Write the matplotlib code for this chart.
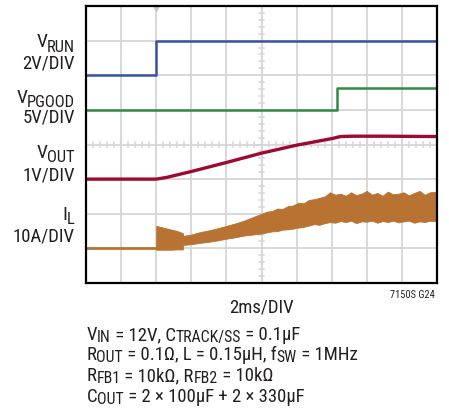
import matplotlib
matplotlib.use('Agg')
import matplotlib.pyplot as plt

plt.rcParams['font.family'] = ['Roboto Condensed', 'DejaVu Sans']

W, H = 449, 412

# scope screen in divisions: 10 across, 8 up, origin bottom-left
vrun_t = [0, 2.0, 2.0, 10]
vrun_v = [6.0, 6.0, 7.0, 7.0]

pgood_t = [0, 7.15, 7.15, 10]
pgood_v = [5.0, 5.0, 5.62, 5.62]

vout_t = [0, 2.0, 2.3, 3.0, 4.0, 5.0, 6.0, 7.0, 7.25, 7.6, 8.5, 10]
vout_v = [3.0, 3.0, 3.05, 3.22, 3.48, 3.75, 3.98, 4.17, 4.23, 4.24, 4.24, 4.23]

il_base_t = [0, 2.0]
il_base_v = [1.0, 1.0]
il_t = [2.0, 2.2, 2.4, 2.6, 2.76, 2.77, 3.0, 3.25, 3.5, 3.75, 4.0, 4.25, 4.5, 4.75,
        5.0, 5.15, 5.3, 5.45, 5.6, 5.75, 5.9, 6.05, 6.2, 6.35, 6.5, 6.65, 6.8, 6.95,
        7.1, 7.25, 7.4, 7.55, 7.7, 7.85, 8.0, 8.15, 8.3, 8.45, 8.6, 8.75, 8.9,
        9.05, 9.2, 9.35, 9.5, 9.65, 9.8, 10.0]
il_hi = [1.65, 1.60, 1.55, 1.50, 1.44, 1.36, 1.40, 1.47, 1.52, 1.58, 1.65, 1.72, 1.80, 1.90,
         2.00, 2.06, 2.08, 2.15, 2.14, 2.22, 2.24, 2.32, 2.30, 2.40, 2.42, 2.46, 2.50, 2.62,
         2.55, 2.58, 2.52, 2.62, 2.54, 2.58, 2.66, 2.55, 2.60, 2.52, 2.64, 2.56, 2.58,
         2.62, 2.53, 2.60, 2.66, 2.55, 2.62, 2.64]
il_lo = [0.96, 0.96, 0.96, 0.97, 0.97, 1.10, 1.12, 1.16, 1.19, 1.23, 1.28, 1.32, 1.37, 1.40,
         1.43, 1.46, 1.49, 1.50, 1.54, 1.55, 1.57, 1.60, 1.62, 1.66, 1.70, 1.68, 1.73, 1.76,
         1.74, 1.79, 1.76, 1.80, 1.73, 1.78, 1.77, 1.80, 1.74, 1.79, 1.76, 1.80, 1.75,
         1.78, 1.80, 1.74, 1.78, 1.76, 1.80, 1.78]

BLUE = '#3953a4'
GREEN = '#2f8a46'
RED = '#9c0a30'
ORANGE = '#b87333'
GRID = '#d6d6d6'
TXT = '#231f20'

fig = plt.figure(figsize=(W / 100, H / 100), dpi=100)
ax = fig.add_axes([86 / W, 1 - 283 / H, 351 / W, 277 / H])
ax.set_xlim(0, 10)
ax.set_ylim(0, 8)

# graticule
for i in range(1, 10):
    ax.axvline(i, color=GRID, lw=1.3, zorder=0)
for i in range(1, 8):
    ax.axhline(i, color=GRID, lw=1.3, zorder=0)
for k in range(51):
    x = k * 0.2
    ax.plot([x, x], [3.92, 4.08], color=GRID, lw=1.1, zorder=0)
for k in range(41):
    y = k * 0.2
    ax.plot([4.92, 5.08], [y, y], color=GRID, lw=1.1, zorder=0)

# traces
ax.plot(vrun_t, vrun_v, color=BLUE, lw=1.8)
ax.plot(pgood_t, pgood_v, color=GREEN, lw=1.8)
ax.plot(vout_t, vout_v, color=RED, lw=2.4)
ax.plot(il_base_t, il_base_v, color=ORANGE, lw=2.0)
ax.fill_between(il_t, il_lo, il_hi, color=ORANGE, lw=0.6, edgecolor=ORANGE)

# trigger marker
ax.plot([2.0], [7.93], marker='v', ms=5, color='#c8c8c8', clip_on=False, zorder=1)

ax.set_xticks([])
ax.set_yticks([])
for s in ax.spines.values():
    s.set_linewidth(1.6)
    s.set_color('black')


def px(x, y):
    return x / W, 1 - y / H


def label(x, y, parts, size=13.5, ha='left', drop=2):
    # parts: list of (text, is_subscript); x,y in image pixels, y = baseline
    r = fig.canvas.get_renderer()
    objs = []
    for s, sub in parts:
        fs = size * 0.85 if sub else size
        t = fig.text(0, 0, s, fontsize=fs, va='baseline', ha='left', color=TXT)
        w = t.get_window_extent(r).width
        objs.append((t, w, sub))
    total = sum(o[1] for o in objs)
    cx = x - total if ha == 'right' else x
    for t, w, sub in objs:
        t.set_position(px(cx, y + (drop if sub else 0)))
        cx += w


label(75, 47, [('V', False), ('RUN', True)], size=14, ha='right', drop=5)
label(75, 68, [('2V/DIV', False)], ha='right')
label(75, 103, [('V', False), ('PGOOD', True)], size=14, ha='right', drop=4)
label(75, 123, [('5V/DIV', False)], ha='right')
label(75, 158, [('V', False), ('OUT', True)], size=14, ha='right', drop=4)
label(75, 180, [('1V/DIV', False)], ha='right')
label(75, 220, [('I', False), ('L', True)], size=14, ha='right', drop=4)
label(75, 241.5, [('10A/DIV', False)], ha='right')

fig.text(*px(261, 312), '2ms/DIV', fontsize=13.5, ha='center', va='baseline', color=TXT)
fig.text(*px(435, 298), '7150S G24', fontsize=7.5, ha='right', va='baseline', color=TXT)

label(86.5, 340, [('V', False), ('IN', True), (' = 12V, C', False), ('TRACK/SS', True),
                  (' = 0.1µF', False)])
label(86.5, 360.5, [('R', False), ('OUT', True), (' = 0.1Ω, L = 0.15µH, f', False),
                    ('SW', True), (' = 1MHz', False)])
label(86.5, 381, [('R', False), ('FB1', True), (' = 10kΩ, R', False), ('FB2', True),
                  (' = 10kΩ', False)])
label(86.5, 401.5, [('C', False), ('OUT', True), (' = 2 × 100µF + 2 × 330µF', False)])

fig.savefig('out.png', dpi=100)
